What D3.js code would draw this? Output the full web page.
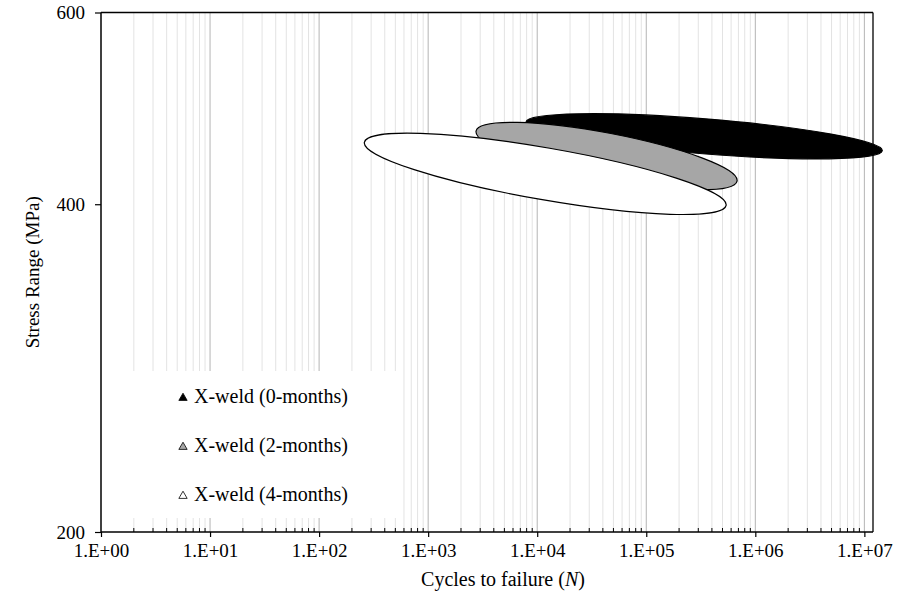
<!DOCTYPE html>
<html>
<head>
<meta charset="utf-8">
<script src="https://cdn.jsdelivr.net/npm/d3@7"></script>
<style>
  body { margin: 0; background: #fff; }
  svg text { font-family: "Liberation Serif", "Times New Roman", serif; fill: #000; }
</style>
</head>
<body>
<div id="chart"></div>
<script>
var WD = 910, HT = 594
var margin = { left: 101, right: 37, top: 12.5, bottom: 62 }

// data
var series = ["X-weld (0-months)", "X-weld (2-months)", "X-weld (4-months)"]
var leftCycles = [7900, 2750, 260]
var leftStress = [476, 467, 456]
var rightCycles = [1.46e7, 6.8e5, 5.4e5]
var rightStress = [448, 420, 399]
var xTicks = [1, 1e1, 1e2, 1e3, 1e4, 1e5, 1e6, 1e7]
var xTickLabels = ["1.E+00", "1.E+01", "1.E+02", "1.E+03", "1.E+04", "1.E+05", "1.E+06", "1.E+07"]
var yTicks = [200, 400, 600]

// styles
var fills = ["#000000", "#a6a6a6", "#ffffff"]
var bandHalf = [17.5, 23, 26]

var x = d3.scaleLog().domain([1, 1.2e7]).range([margin.left, WD - margin.right])
var y = d3.scaleLog().domain([200, 600]).range([HT - margin.bottom, margin.top])

var svg = d3.select("#chart").append("svg")
    .attr("width", WD)
    .attr("height", HT)

var x0 = x.range()[0], x1 = x.range()[1]
var y0 = y.range()[0], y1 = y.range()[1]

// vertical gridlines, minor then major
var minor = []
for (var e = 0; e < 8; e++) {
  for (var k = 2; k <= 9; k++) {
    var v = k * Math.pow(10, e)
    if (v <= x.domain()[1]) minor.push(v)
  }
}
svg.append("g").selectAll("line")
  .data(minor).enter().append("line")
    .attr("x1", function(d){ return x(d) }).attr("x2", function(d){ return x(d) })
    .attr("y1", y1).attr("y2", y0)
    .attr("stroke", "#e3e3e3").attr("stroke-width", 1)
svg.append("g").selectAll("line")
  .data(xTicks.slice(1)).enter().append("line")
    .attr("x1", function(d){ return x(d) }).attr("x2", function(d){ return x(d) })
    .attr("y1", y1).attr("y2", y0)
    .attr("stroke", "#b4b4b4").attr("stroke-width", 1)

// legend box (covers grid)
svg.append("rect")
  .attr("x", x0).attr("y", 371)
  .attr("width", 299).attr("height", 147)
  .attr("fill", "#fff")

// ellipses
series.forEach(function(s, i) {
  var ax = x(leftCycles[i]), ay = y(leftStress[i])
  var bx = x(rightCycles[i]), by = y(rightStress[i])
  var cx = (ax + bx) / 2, cy = (ay + by) / 2
  var a = Math.hypot(bx - ax, by - ay) / 2
  var ang = Math.atan2(by - ay, bx - ax) * 180 / Math.PI
  svg.append("ellipse")
    .attr("cx", cx).attr("cy", cy)
    .attr("rx", a).attr("ry", bandHalf[i])
    .attr("transform", "rotate(" + ang + "," + cx + "," + cy + ")")
    .attr("fill", fills[i])
    .attr("stroke", "#000").attr("stroke-width", 1.2)
})

// frame
svg.append("line").attr("x1", x0).attr("x2", x1).attr("y1", y1).attr("y2", y1).attr("stroke", "#000").attr("stroke-width", 1.3)
svg.append("line").attr("x1", x1).attr("x2", x1).attr("y1", y1).attr("y2", y0).attr("stroke", "#000").attr("stroke-width", 1.3)

// x axis
var xAxis = d3.axisBottom(x)
  .tickValues(xTicks)
  .tickSize(5)
  .tickFormat(function(d, i){ return xTickLabels[i] })
var gx = svg.append("g").attr("transform", "translate(0," + y0 + ")").call(xAxis)
gx.select(".domain").attr("stroke", "#000").attr("stroke-width", 1.5).attr("d", "M" + x0 + ",0H" + x1)
gx.selectAll(".tick line").attr("stroke", "#000").attr("stroke-width", 1.2)
gx.selectAll(".tick text")
  .attr("y", 12)
  .style("font-family", "Liberation Serif, serif")
  .style("font-size", "19px")
  .attr("fill", "#000")
gx.append("g").selectAll("line")
  .data(minor).enter().append("line")
    .attr("x1", function(d){ return x(d) }).attr("x2", function(d){ return x(d) })
    .attr("y1", 0).attr("y2", -4)
    .attr("stroke", "#000").attr("stroke-width", 1)

// y axis
var yAxis = d3.axisLeft(y)
  .tickValues(yTicks)
  .tickSize(6)
  .tickFormat(d3.format("d"))
var gy = svg.append("g").attr("transform", "translate(" + x0 + ",0)").call(yAxis)
gy.select(".domain").attr("stroke", "#000").attr("stroke-width", 1.5).attr("d", "M0," + y0 + "V" + y1)
gy.selectAll(".tick line").attr("stroke", "#000").attr("stroke-width", 1.2)
gy.selectAll(".tick text")
  .attr("x", -16)
  .style("font-family", "Liberation Serif, serif")
  .style("font-size", "19px")
  .attr("fill", "#000")

// axis titles
svg.append("text")
  .attr("x", 503).attr("y", 586)
  .attr("text-anchor", "middle")
  .style("font-size", "20px")
  .html('Cycles to failure (<tspan font-style="italic">N</tspan>)')

svg.append("text")
  .attr("transform", "translate(39," + ((y0 + y1) / 2) + ") rotate(-90)")
  .attr("text-anchor", "middle")
  .style("font-size", "19px")
  .text("Stress Range (MPa)")

// legend
var tri = d3.symbol().type(d3.symbolTriangle).size(30)
var leg = svg.append("g")
series.forEach(function(s, i) {
  var ly = 397 + i * 49
  leg.append("path")
    .attr("d", tri)
    .attr("transform", "translate(183," + (ly + 1) + ")")
    .attr("fill", fills[i])
    .attr("stroke", "#000").attr("stroke-width", 0.8)
  leg.append("text")
    .attr("x", 194).attr("y", ly + 6)
    .style("font-size", "20px")
    .text(s)
})
</script>
</body>
</html>
